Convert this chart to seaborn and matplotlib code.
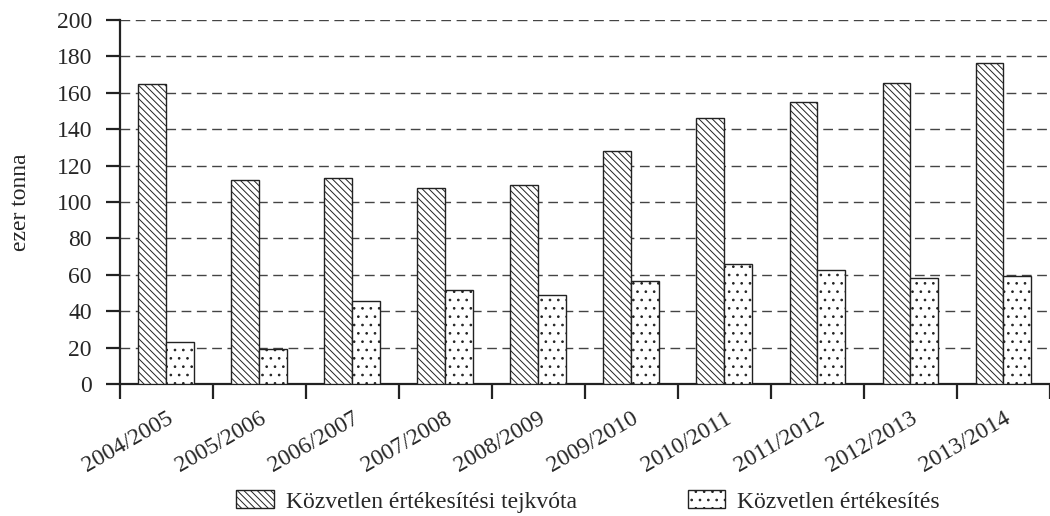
import matplotlib
matplotlib.use("Agg")
import matplotlib.pyplot as plt
from matplotlib.patches import Patch
import pandas as pd
import seaborn as sns

# data (thousand tonnes)
seasons = ["2004/2005", "2005/2006", "2006/2007", "2007/2008", "2008/2009",
           "2009/2010", "2010/2011", "2011/2012", "2012/2013", "2013/2014"]
quota = [164.5, 112, 113, 107.5, 109.5, 128, 146, 155, 165, 176]
direct = [23.5, 19.3, 46, 51.7, 49.2, 56.7, 65.9, 62.8, 58.5, 59.3]
series_names = ["Közvetlen értékesítési tejkvóta", "Közvetlen értékesítés"]
y_ticks = list(range(0, 201, 20))
hatches = ["\\" * 5, ".."]

df = pd.DataFrame({
    "season": seasons * 2,
    "value": quota + direct,
    "series": [series_names[0]] * len(seasons) + [series_names[1]] * len(seasons),
})

sns.set_style("white")
plt.rcParams["font.family"] = ["Liberation Serif", "DejaVu Serif"]
plt.rcParams["hatch.linewidth"] = 0.7
plt.rcParams["hatch.color"] = "black"

fig = plt.figure(figsize=(10.5, 5.16), dpi=100)
ax = fig.add_axes([0.114, 0.255, 0.886, 0.707])

sns.barplot(data=df, x="season", y="value", hue="series", order=seasons,
            hue_order=series_names, palette=["white", "white"], saturation=1,
            width=0.6, edgecolor="#222222", linewidth=1, legend=False,
            ax=ax, zorder=3)

# hatch each series
for cont, h in zip(ax.containers, hatches):
    for bar in cont:
        bar.set_hatch(h)

ax.set_ylim(0, 200)
ax.set_xlim(-0.5, 9.45)
ax.set_yticks(y_ticks)
ax.set_axisbelow(True)
ax.yaxis.grid(True, linestyle=(0, (7, 4)), color="#444444", linewidth=1)
ax.xaxis.grid(False)

for s in ["top", "right"]:
    ax.spines[s].set_visible(False)
for s in ["left", "bottom"]:
    ax.spines[s].set_linewidth(1.6)
    ax.spines[s].set_color("#222222")

# category labels in the middle, tick marks on the boundaries
ax.set_xticks(range(len(seasons)))
ax.set_xticklabels(seasons, rotation=30, ha="right", va="top", rotation_mode="anchor")
ax.set_xticks([i - 0.5 for i in range(len(seasons) + 1)], minor=True)
ax.tick_params(axis="x", which="major", bottom=True, length=0, pad=17, labelsize=17)
ax.tick_params(axis="x", which="minor", bottom=True, length=11, width=1.6,
               color="#222222", direction="out")
ax.tick_params(axis="y", left=True, length=10, width=1.6, color="#222222",
               direction="out", pad=10, labelsize=17)

ax.set_xlabel("")
ax.set_ylabel("ezer tonna", fontsize=17)
ax.yaxis.set_label_coords(-0.095, 0.5)

handles = [Patch(facecolor="white", edgecolor="#222222", hatch=h, linewidth=1) for h in hatches]
fig.legend(handles, series_names, loc="center", bbox_to_anchor=(0.56, 0.028), ncol=2,
           frameon=False, fontsize=17, handlelength=1.6, handleheight=0.8,
           handletextpad=0.5, columnspacing=4.7)

fig.savefig("out.png", dpi=100)
